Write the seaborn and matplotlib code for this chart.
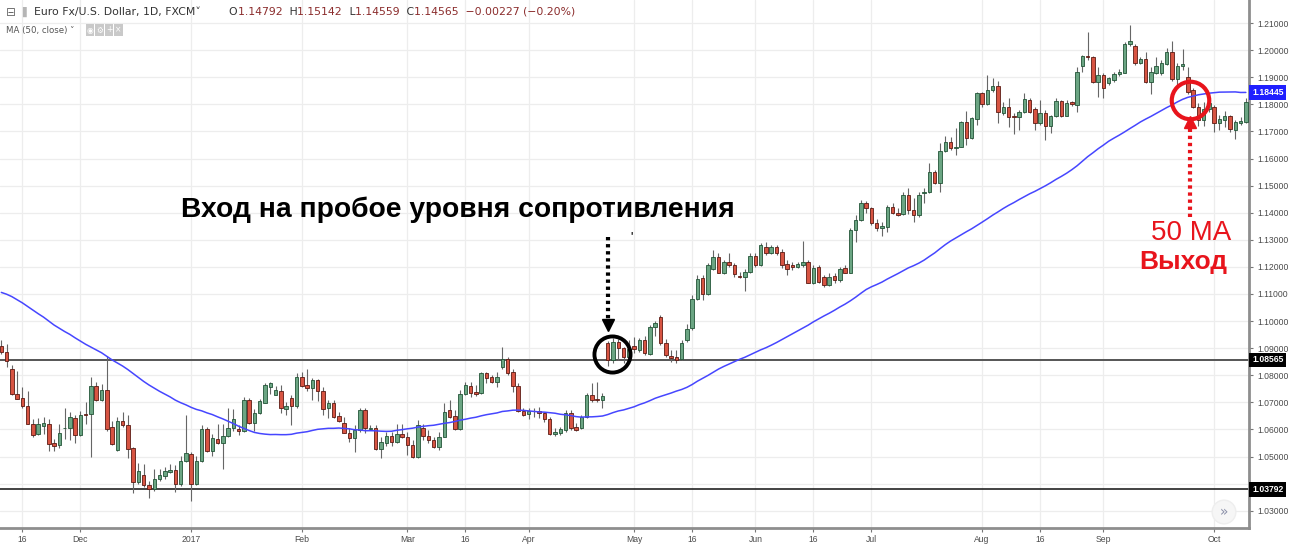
import numpy as np
import pandas as pd
import matplotlib
matplotlib.use("Agg")
import matplotlib.pyplot as plt
import seaborn as sns

# ---------------- data (EUR/USD daily, FXCM) ----------------
opens = [1.0907, 1.0886, 1.0825, 1.0732, 1.0716, 1.0686, 1.0621, 1.0584, 1.0614, 1.0621,
         1.0549, 1.0541, 1.0604, 1.0606, 1.0643, 1.0578, 1.0656, 1.0657, 1.0760, 1.0710,
         1.0747, 1.0609, 1.0525, 1.0630, 1.0618, 1.0530, 1.0405, 1.0433, 1.0396, 1.0380,
         1.0417, 1.0430, 1.0442, 1.0452, 1.0399, 1.0484, 1.0510, 1.0399, 1.0482, 1.0600,
         1.0522, 1.0565, 1.0549, 1.0577, 1.0606, 1.0602, 1.0593, 1.0710, 1.0623, 1.0660,
         1.0698, 1.0758, 1.0729, 1.0743, 1.0676, 1.0717, 1.0685, 1.0794, 1.0764, 1.0752,
         1.0782, 1.0743, 1.0678, 1.0697, 1.0650, 1.0623, 1.0588, 1.0567, 1.0598, 1.0672,
         1.0603, 1.0607, 1.0527, 1.0552, 1.0576, 1.0555, 1.0583, 1.0573, 1.0543, 1.0500,
         1.0607, 1.0576, 1.0561, 1.0537, 1.0574, 1.0672, 1.0650, 1.0601, 1.0731, 1.0760,
         1.0740, 1.0733, 1.0807, 1.0792, 1.0776, 1.0829, 1.0859, 1.0813, 1.0761, 1.0670,
         1.0657, 1.0668, 1.0670, 1.0660, 1.0638, 1.0583, 1.0586, 1.0598, 1.0660, 1.0610,
         1.0604, 1.0645, 1.0727, 1.0712, 1.0709, 1.0918, 1.0856, 1.0924, 1.0900, 1.0866,
         1.0908, 1.0893, 1.0930, 1.0879, 1.0978, 1.1016, 1.0918, 1.0871, 1.0866, 1.0859,
         1.0930, 1.0973, 1.1080, 1.1158, 1.1099, 1.1191, 1.1235, 1.1179, 1.1219, 1.1207,
         1.1167, 1.1162, 1.1182, 1.1240, 1.1207, 1.1272, 1.1252, 1.1272, 1.1256, 1.1211,
         1.1207, 1.1201, 1.1207, 1.1219, 1.1142, 1.1201, 1.1164, 1.1133, 1.1166, 1.1152,
         1.1195, 1.1179, 1.1336, 1.1373, 1.1434, 1.1416, 1.1361, 1.1343, 1.1349, 1.1422,
         1.1400, 1.1395, 1.1465, 1.1410, 1.1391, 1.1472, 1.1475, 1.1551, 1.1511, 1.1629,
         1.1662, 1.1637, 1.1644, 1.1736, 1.1674, 1.1744, 1.1843, 1.1801, 1.1853, 1.1868,
         1.1769, 1.1791, 1.1757, 1.1754, 1.1773, 1.1815, 1.1781, 1.1730, 1.1767, 1.1720,
         1.1755, 1.1812, 1.1757, 1.1807, 1.1797, 1.1941, 1.1978, 1.1973, 1.1884, 1.1908,
         1.1880, 1.1890, 1.1912, 1.1916, 1.2022, 1.2015, 1.1951, 1.1966, 1.1884, 1.1917,
         1.1917, 1.1949, 1.1994, 1.1892, 1.1941, 1.1900, 1.1851, 1.1791, 1.1742, 1.1781,
         1.1789, 1.1730, 1.1742, 1.1757, 1.1705, 1.1730, 1.1736]
highs = [1.0930, 1.0917, 1.0837, 1.0817, 1.0757, 1.0741, 1.0640, 1.0643, 1.0646, 1.0640,
         1.0565, 1.0621, 1.0680, 1.0665, 1.0652, 1.0670, 1.0700, 1.0793, 1.0777, 1.0769,
         1.0870, 1.0633, 1.0646, 1.0665, 1.0652, 1.0535, 1.0475, 1.0473, 1.0411, 1.0454,
         1.0454, 1.0461, 1.0473, 1.0470, 1.0504, 1.0652, 1.0517, 1.0504, 1.0615, 1.0611,
         1.0584, 1.0620, 1.0620, 1.0680, 1.0676, 1.0615, 1.0720, 1.0717, 1.0674, 1.0711,
         1.0770, 1.0775, 1.0760, 1.0765, 1.0700, 1.0726, 1.0809, 1.0812, 1.0823, 1.0790,
         1.0786, 1.0756, 1.0709, 1.0709, 1.0666, 1.0645, 1.0604, 1.0617, 1.0678, 1.0678,
         1.0617, 1.0617, 1.0573, 1.0592, 1.0592, 1.0620, 1.0622, 1.0592, 1.0561, 1.0635,
         1.0620, 1.0598, 1.0571, 1.0592, 1.0696, 1.0709, 1.0672, 1.0746, 1.0776, 1.0776,
         1.0764, 1.0813, 1.0813, 1.0801, 1.0813, 1.0906, 1.0869, 1.0822, 1.0770, 1.0678,
         1.0678, 1.0678, 1.0684, 1.0666, 1.0645, 1.0604, 1.0610, 1.0672, 1.0672, 1.0623,
         1.0653, 1.0734, 1.0770, 1.0776, 1.0736, 1.0925, 1.0936, 1.0934, 1.0906, 1.0930,
         1.0940, 1.0936, 1.0945, 1.0986, 1.1002, 1.1022, 1.0933, 1.0893, 1.0893, 1.0930,
         1.0989, 1.1096, 1.1170, 1.1170, 1.1213, 1.1262, 1.1250, 1.1225, 1.1250, 1.1213,
         1.1182, 1.1194, 1.1250, 1.1252, 1.1287, 1.1293, 1.1281, 1.1281, 1.1265, 1.1226,
         1.1219, 1.1219, 1.1297, 1.1225, 1.1207, 1.1207, 1.1170, 1.1176, 1.1179, 1.1201,
         1.1207, 1.1342, 1.1392, 1.1447, 1.1444, 1.1422, 1.1376, 1.1367, 1.1428, 1.1435,
         1.1416, 1.1478, 1.1490, 1.1453, 1.1478, 1.1490, 1.1582, 1.1557, 1.1656, 1.1683,
         1.1678, 1.1711, 1.1740, 1.1777, 1.1752, 1.1847, 1.1847, 1.1908, 1.1896, 1.1887,
         1.1810, 1.1822, 1.1767, 1.1779, 1.1843, 1.1822, 1.1789, 1.1816, 1.1779, 1.1761,
         1.1822, 1.1816, 1.1816, 1.1812, 1.1939, 1.1982, 1.2068, 1.1978, 1.1939, 1.1917,
         1.1902, 1.1920, 1.1929, 1.2031, 1.2093, 1.2022, 1.1976, 1.1994, 1.1939, 1.1976,
         1.1963, 1.2006, 1.2035, 1.1951, 1.2003, 1.1936, 1.1859, 1.1803, 1.1810, 1.1816,
         1.1797, 1.1760, 1.1777, 1.1761, 1.1742, 1.1754, 1.1822]
lows = [1.0880, 1.0831, 1.0726, 1.0711, 1.0680, 1.0619, 1.0572, 1.0578, 1.0584, 1.0522,
        1.0520, 1.0533, 1.0565, 1.0561, 1.0550, 1.0575, 1.0621, 1.0500, 1.0705, 1.0706,
        1.0596, 1.0544, 1.0522, 1.0609, 1.0495, 1.0364, 1.0398, 1.0386, 1.0349, 1.0374,
        1.0411, 1.0417, 1.0440, 1.0368, 1.0393, 1.0480, 1.0337, 1.0395, 1.0480, 1.0516,
        1.0504, 1.0546, 1.0454, 1.0574, 1.0596, 1.0578, 1.0590, 1.0620, 1.0593, 1.0656,
        1.0696, 1.0732, 1.0727, 1.0661, 1.0653, 1.0615, 1.0681, 1.0757, 1.0743, 1.0710,
        1.0706, 1.0652, 1.0641, 1.0641, 1.0629, 1.0586, 1.0555, 1.0518, 1.0592, 1.0586,
        1.0598, 1.0524, 1.0494, 1.0539, 1.0539, 1.0549, 1.0567, 1.0506, 1.0494, 1.0494,
        1.0561, 1.0551, 1.0530, 1.0524, 1.0571, 1.0641, 1.0598, 1.0598, 1.0727, 1.0721,
        1.0724, 1.0731, 1.0773, 1.0770, 1.0758, 1.0822, 1.0801, 1.0740, 1.0666, 1.0650,
        1.0637, 1.0647, 1.0641, 1.0629, 1.0580, 1.0576, 1.0580, 1.0592, 1.0598, 1.0596,
        1.0600, 1.0641, 1.0703, 1.0703, 1.0678, 1.0834, 1.0846, 1.0856, 1.0844, 1.0856,
        1.0881, 1.0887, 1.0875, 1.0875, 1.0945, 1.0912, 1.0869, 1.0850, 1.0847, 1.0856,
        1.0924, 1.0967, 1.1078, 1.1078, 1.1096, 1.1189, 1.1176, 1.1174, 1.1201, 1.1162,
        1.1158, 1.1112, 1.1176, 1.1201, 1.1203, 1.1244, 1.1248, 1.1244, 1.1195, 1.1170,
        1.1189, 1.1195, 1.1201, 1.1139, 1.1137, 1.1139, 1.1127, 1.1129, 1.1142, 1.1146,
        1.1176, 1.1176, 1.1293, 1.1371, 1.1398, 1.1355, 1.1334, 1.1314, 1.1330, 1.1395,
        1.1388, 1.1391, 1.1395, 1.1367, 1.1385, 1.1435, 1.1471, 1.1506, 1.1478, 1.1625,
        1.1631, 1.1613, 1.1641, 1.1650, 1.1671, 1.1724, 1.1789, 1.1797, 1.1847, 1.1730,
        1.1760, 1.1718, 1.1690, 1.1705, 1.1767, 1.1767, 1.1705, 1.1724, 1.1668, 1.1693,
        1.1752, 1.1752, 1.1755, 1.1794, 1.1773, 1.1920, 1.1963, 1.1877, 1.1828, 1.1822,
        1.1871, 1.1884, 1.1904, 1.1914, 1.2015, 1.1945, 1.1949, 1.1877, 1.1838, 1.1912,
        1.1908, 1.1945, 1.1887, 1.1868, 1.1927, 1.1838, 1.1785, 1.1720, 1.1720, 1.1773,
        1.1699, 1.1705, 1.1718, 1.1699, 1.1671, 1.1724, 1.1730]
closes = [1.0886, 1.0852, 1.0732, 1.0714, 1.0686, 1.0621, 1.0578, 1.0621, 1.0623, 1.0547,
          1.0539, 1.0586, 1.0607, 1.0646, 1.0578, 1.0654, 1.0653, 1.0760, 1.0710, 1.0747,
          1.0602, 1.0547, 1.0630, 1.0615, 1.0528, 1.0405, 1.0448, 1.0396, 1.0380, 1.0417,
          1.0433, 1.0446, 1.0452, 1.0399, 1.0485, 1.0512, 1.0399, 1.0482, 1.0600, 1.0522,
          1.0569, 1.0549, 1.0577, 1.0606, 1.0637, 1.0593, 1.0710, 1.0623, 1.0660, 1.0704,
          1.0763, 1.0772, 1.0747, 1.0680, 1.0688, 1.0685, 1.0794, 1.0760, 1.0752, 1.0783,
          1.0743, 1.0676, 1.0699, 1.0647, 1.0633, 1.0588, 1.0567, 1.0598, 1.0672, 1.0604,
          1.0607, 1.0527, 1.0555, 1.0576, 1.0555, 1.0583, 1.0571, 1.0543, 1.0500, 1.0617,
          1.0576, 1.0561, 1.0537, 1.0574, 1.0666, 1.0645, 1.0601, 1.0731, 1.0764, 1.0733,
          1.0731, 1.0807, 1.0791, 1.0776, 1.0792, 1.0859, 1.0810, 1.0761, 1.0670, 1.0654,
          1.0670, 1.0670, 1.0660, 1.0638, 1.0583, 1.0592, 1.0601, 1.0660, 1.0604, 1.0598,
          1.0645, 1.0727, 1.0707, 1.0709, 1.0723, 1.0858, 1.0924, 1.0899, 1.0866, 1.0896,
          1.0896, 1.0930, 1.0881, 1.0980, 1.0994, 1.0918, 1.0875, 1.0863, 1.0856, 1.0918,
          1.0972, 1.1080, 1.1154, 1.1099, 1.1207, 1.1235, 1.1179, 1.1219, 1.1207, 1.1174,
          1.1164, 1.1182, 1.1240, 1.1207, 1.1281, 1.1252, 1.1275, 1.1252, 1.1207, 1.1191,
          1.1201, 1.1211, 1.1219, 1.1142, 1.1195, 1.1146, 1.1133, 1.1164, 1.1152, 1.1191,
          1.1179, 1.1336, 1.1373, 1.1437, 1.1416, 1.1361, 1.1342, 1.1351, 1.1422, 1.1398,
          1.1392, 1.1465, 1.1410, 1.1391, 1.1465, 1.1477, 1.1551, 1.1511, 1.1629, 1.1662,
          1.1638, 1.1644, 1.1736, 1.1674, 1.1748, 1.1843, 1.1801, 1.1853, 1.1868, 1.1773,
          1.1791, 1.1752, 1.1752, 1.1773, 1.1818, 1.1773, 1.1732, 1.1767, 1.1720, 1.1755,
          1.1812, 1.1757, 1.1806, 1.1800, 1.1920, 1.1978, 1.1973, 1.1884, 1.1908, 1.1859,
          1.1896, 1.1912, 1.1920, 1.2022, 1.2035, 1.1954, 1.1966, 1.1884, 1.1920, 1.1941,
          1.1951, 1.1994, 1.1892, 1.1941, 1.1949, 1.1847, 1.1791, 1.1742, 1.1781, 1.1804,
          1.1730, 1.1745, 1.1757, 1.1708, 1.1736, 1.1740, 1.1810]
# closes of the 49 sessions before the first visible bar (needed for MA 50)
pre_closes = [1.1186, 1.1178, 1.1285, 1.1270, 1.1291, 1.1263, 1.1265, 1.1248, 1.1276, 1.1270,
              1.1185, 1.1202, 1.1182, 1.1218, 1.1240, 1.1255, 1.1284, 1.1242, 1.1245, 1.1252,
              1.1219, 1.1190, 1.1185, 1.1185, 1.1134, 1.1180, 1.1122, 1.1034, 1.0989, 1.1025,
              1.0953, 1.0978, 1.0998, 1.0954, 1.0910, 1.0867, 1.0860, 1.0862, 1.0897, 1.0878,
              1.0965, 1.0961, 1.1030, 1.1078, 1.1080, 1.1120, 1.1015, 1.1005, 1.0897]
tick_bars = [4, 15, 36, 57, 77, 88, 100, 120, 131, 143, 154, 165, 186, 197, 209, 230]
tick_labels = ["16", "Dec", "2017", "Feb", "Mar", "16", "Apr", "May", "16", "Jun",
               "16", "Jul", "Aug", "16", "Sep", "Oct"]
price_ticks = [1.03, 1.04, 1.05, 1.06, 1.07, 1.08, 1.09, 1.10, 1.11, 1.12,
               1.13, 1.14, 1.15, 1.16, 1.17, 1.18, 1.19, 1.20, 1.21]
resistance = 1.08565
support = 1.03792
ma_last = 1.18445
entry_bar = 115
exit_bar = 226

# ---------------- style ----------------
sns.set_theme(style="white")
plt.rcParams["font.family"] = ["Liberation Sans", "DejaVu Sans"]

W, H = 1290, 545
fig = plt.figure(figsize=(W / 100, H / 100), dpi=100)
fig.patch.set_facecolor("white")
ax = fig.add_axes([0, 17 / H, 1249 / W, 528 / H])
ax.set_facecolor("white")

n = len(closes)
df = pd.DataFrame({"bar": np.arange(n), "open": opens, "high": highs,
                   "low": lows, "close": closes})
df["ma"] = pd.Series(pre_closes + closes).rolling(50).mean().iloc[len(pre_closes):].values

ax.set_xlim(-0.25, 236.6)
ax.set_ylim(1.02365, 1.21849)

# grid
for p in price_ticks:
    ax.axhline(p, color="#ededed", lw=0.9, zorder=0)
for b in tick_bars:
    ax.axvline(b, color="#ededed", lw=0.9, zorder=0)

# candles
up = df["close"] >= df["open"]
ax.vlines(df["bar"], df["low"], df["high"], color="#666666", lw=0.8, zorder=3)
body_bot = np.minimum(df["open"], df["close"])
body_h = np.maximum((df["close"] - df["open"]).abs(), 0.00012)
ax.bar(df["bar"][up], body_h[up], bottom=body_bot[up], width=0.66,
       color="#6ba583", edgecolor="#225437", linewidth=0.6, zorder=4)
ax.bar(df["bar"][~up], body_h[~up], bottom=body_bot[~up], width=0.66,
       color="#d75442", edgecolor="#5b1a13", linewidth=0.6, zorder=4)

# moving average
sns.lineplot(data=df, x="bar", y="ma", ax=ax, color="#4646ff", lw=1.1, zorder=5)

# horizontal levels
ax.axhline(resistance, color="#555555", lw=1.4, zorder=2)
ax.axhline(support, color="#222222", lw=1.2, zorder=2)

# axes
ax.set_xlabel("")
ax.set_ylabel("")
for s in ["top", "left"]:
    ax.spines[s].set_visible(False)
for s in ["right", "bottom"]:
    ax.spines[s].set_color("#8e8e8e")
    ax.spines[s].set_linewidth(2)
ax.yaxis.tick_right()
ax.set_yticks(price_ticks)
ax.set_yticklabels([f"{p:.5f}" for p in price_ticks])
ax.set_xticks(tick_bars)
ax.set_xticklabels(tick_labels)
ax.tick_params(axis="y", right=True, length=3, width=0.8, color="#777777",
               labelsize=6.2, labelcolor="#4a4a4a", pad=3)
ax.tick_params(axis="x", bottom=True, length=3, width=0.8, color="#777777",
               labelsize=6.2, labelcolor="#4a4a4a", pad=2)
# the 1.04000 scale label sits under the support price tag, as in the original
for lbl, p in zip(ax.get_yticklabels(), price_ticks):
    if abs(p - support) < 0.004:
        lbl.set_visible(False)

# price labels on the scale
ytr = ax.get_yaxis_transform()
for val, txt, bg in [(resistance, f"{resistance:.5f}", "black"),
                     (support, f"{support:.5f}", "black"),
                     (ma_last, f"{ma_last:.5f}", "#1f1fff")]:
    ax.text(1.0025, val, txt, transform=ytr, ha="left", va="center", fontsize=6.2,
            fontweight="bold", color="white", clip_on=False, zorder=10,
            bbox=dict(boxstyle="square,pad=0.32", fc=bg, ec="none"))

# header
def fx(px):
    return px / W

def fy(py):
    return 1 - py / H

fig.text(fx(6), fy(12), "\u229f", fontsize=8.5, color="#6a6a6a", va="center",
         family="DejaVu Sans")
fig.text(fx(22), fy(12), "\u258c", fontsize=7, color="#b5b5b5", va="center",
         family="DejaVu Sans")
t = fig.text(fx(34), fy(12), "Euro Fx/U.S. Dollar, 1D, FXCM\u02c5", fontsize=7.8,
             color="#333333", va="center", family="DejaVu Sans")
dark, red = "#333333", "#8b2c2c"
parts = [("        O", dark), ("1.14792 ", red), (" H", dark), ("1.15142 ", red),
         (" L", dark), ("1.14559 ", red), (" C", dark), ("1.14565 ", red),
         (" \u22120.00227 (\u22120.20%)", red)]
prev = t
for s, c in parts:
    prev = ax.annotate(s, xy=(1, 0), xycoords=prev, va="bottom", ha="left",
                       fontsize=7.8, color=c, family="DejaVu Sans",
                       annotation_clip=False)
fig.text(fx(6), fy(30), "MA (50, close) \u02c5", fontsize=6.2, color="#555555",
         va="center", family="DejaVu Sans")
for k, sym in enumerate(["\u25c9", "\u2699", "+", "\u00d7"]):
    fig.text(fx(90 + 9.5 * k), fy(30), sym, fontsize=5.5, color="white",
             va="center", ha="center", family="DejaVu Sans",
             bbox=dict(boxstyle="square,pad=0.15", fc="#c9c9c9", ec="none"))

# scroll button
fig.text(fx(1224), fy(512), "\u00bb", fontsize=10, color="#8a8fa8", ha="center",
         va="center", family="DejaVu Sans",
         bbox=dict(boxstyle="circle,pad=0.35", fc="#f6f6f6", ec="#eeeeee"))

# annotations: entry
fig.text(fx(458), fy(210), "Вход на пробое уровня сопротивления", fontsize=20.3,
         fontweight="bold", color="black", ha="center", va="center",
         family="Liberation Sans")
fig.text(fx(632), fy(236), "'", fontsize=7, fontweight="bold", color="black",
         ha="center", va="center")
ax.plot([entry_bar, entry_bar], [1.1312, 1.0995], color="black", lw=3,
        ls=(0, (0.8, 0.9)), zorder=8, solid_capstyle="butt")
ax.plot([entry_bar], [1.0984], marker="v", ms=8, color="black", zorder=8)
ax.plot([entry_bar + 0.8], [1.0879], marker="o", ms=26, mfc="none", mec="black",
        mew=2.8, zorder=9)

# annotations: exit
red_c = "#e8141c"
ax.plot([exit_bar - 0.6, exit_bar - 0.6], [1.1385, 1.1732], color=red_c, lw=3,
        ls=(0, (0.8, 0.9)), zorder=8)
ax.plot([exit_bar - 0.6], [1.1736], marker="^", ms=8, color=red_c, zorder=8)
ax.plot([exit_bar - 0.6], [1.1816], marker="o", ms=27, mfc="none", mec=red_c,
        mew=3, zorder=9)
fig.text(fx(1191), fy(233), "50 MA", fontsize=20, color=red_c, ha="center",
         va="center", family="Liberation Sans")
fig.text(fx(1183), fy(262), "Выход", fontsize=19, fontweight="bold", color=red_c,
         ha="center", va="center", family="Liberation Sans")

fig.savefig("out.png", dpi=100, facecolor="white")
